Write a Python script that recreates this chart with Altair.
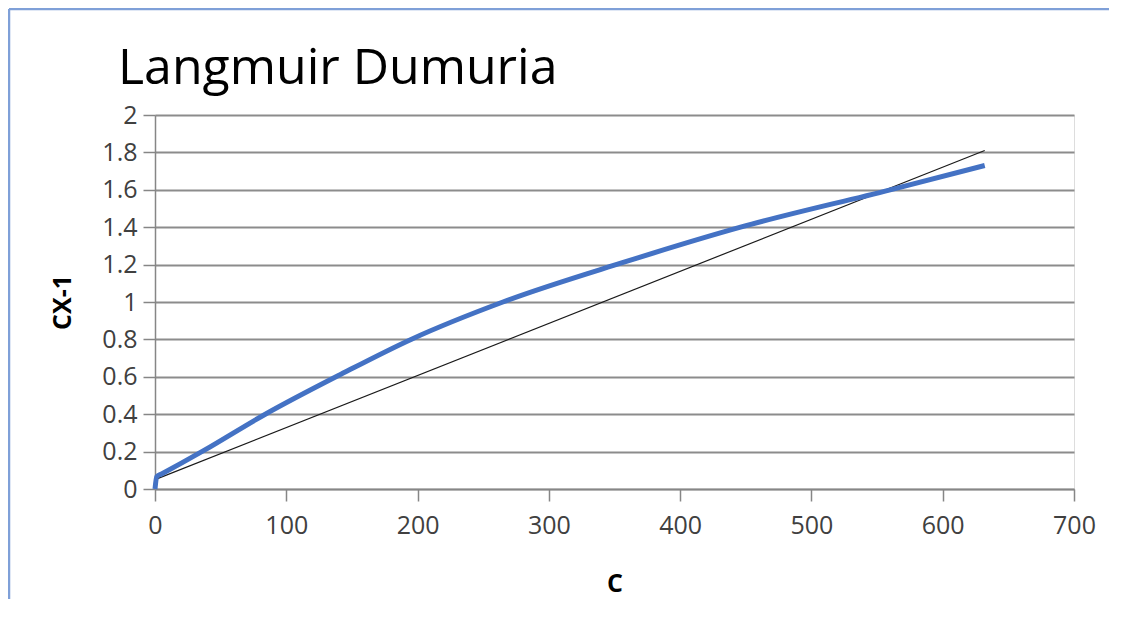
import altair as alt
import pandas as pd

# Measured series (blue, smoothed)
c_vals = [0, 1.3, 5, 37, 84, 142, 195, 265, 356, 446, 560, 632]
cx_vals = [0, 0.066, 0.080, 0.205, 0.40, 0.615, 0.80, 1.0, 1.21, 1.40, 1.60, 1.73]

# Linear trendline end points
trend_c = [0, 632]
trend_v = [0.05, 1.81]

x_ticks = [0, 100, 200, 300, 400, 500, 600, 700]
y_ticks = [0, 0.2, 0.4, 0.6, 0.8, 1, 1.2, 1.4, 1.6, 1.8, 2]

df = pd.DataFrame({"C": c_vals, "CX": cx_vals})
tf = pd.DataFrame({"C": trend_c, "CX": trend_v})

W, H = 919, 374
PL, PT, PR, PB = 147, 107, 35, 110
FONT = "Open Sans"

xscale = alt.Scale(domain=[0, 700], nice=False, zero=False)
yscale = alt.Scale(domain=[0, 2], nice=False, zero=False)

xaxis = alt.Axis(values=x_ticks, title="C", grid=False, domainColor="#868686", domainWidth=1.5,
                 tickColor="#868686", tickWidth=1.5, tickSize=12, labelPadding=12,
                 labelFont=FONT, labelFontSize=25, labelColor="#404040", labelOverlap=False,
                 titleFont=FONT, titleFontSize=25, titleFontWeight="bold", titleColor="#000000",
                 titleX=W / 2, titleY=94, titleBaseline="middle", titleAlign="center",
                 labelFlush=False)
yaxis = alt.Axis(values=y_ticks, format="~g", title="CX-1", grid=True, gridColor="#8c8c8c", gridWidth=2,
                 domainColor="#868686", domainWidth=1.5, tickColor="#868686", tickWidth=1.5, tickSize=12,
                 labelPadding=6, labelFont=FONT, labelFontSize=25, labelColor="#404040", labelOverlap=False,
                 titleFont=FONT, titleFontSize=25, titleFontWeight="bold", titleColor="#000000",
                 titleAngle=270, titleX=-93, titleY=H / 2, titleBaseline="middle", titleAlign="center",
                 labelFlush=False)

curve = alt.Chart(df).mark_line(color="#4472C4", strokeWidth=5, interpolate="monotone").encode(
    x=alt.X("C:Q", scale=xscale, axis=xaxis),
    y=alt.Y("CX:Q", scale=yscale, axis=yaxis),
)

trend = alt.Chart(tf).mark_line(color="#1a1a1a", strokeWidth=1.2).encode(
    x=alt.X("C:Q", scale=xscale, axis=xaxis),
    y=alt.Y("CX:Q", scale=yscale, axis=yaxis),
)

border_top = alt.Chart(pd.DataFrame({"a": [0]})).mark_rule(color="#7fa0d8", strokeWidth=2.5).encode(
    x=alt.value(-146), x2=alt.value(W + PR), y=alt.value(-106)
)
border_left = alt.Chart(pd.DataFrame({"a": [0]})).mark_rule(color="#7fa0d8", strokeWidth=2.5).encode(
    x=alt.value(-146), y=alt.value(-106), y2=alt.value(H + PB)
)

chart = alt.layer(border_top, border_left, trend, curve).properties(
    width=W, height=H,
    title=alt.TitleParams("Langmuir Dumuria", anchor="start", frame="group", dx=-37, dy=126,
                          baseline="alphabetic", offset=0,
                          font=FONT, fontSize=50, fontWeight="normal", color="#000000"),
    autosize=alt.AutoSizeParams(type="none"),
    padding={"left": PL, "top": PT, "right": PR, "bottom": PB},
).configure_view(stroke=None).configure(background="white")

chart.save("out.html", embed_options={"renderer": "svg", "actions": False})
